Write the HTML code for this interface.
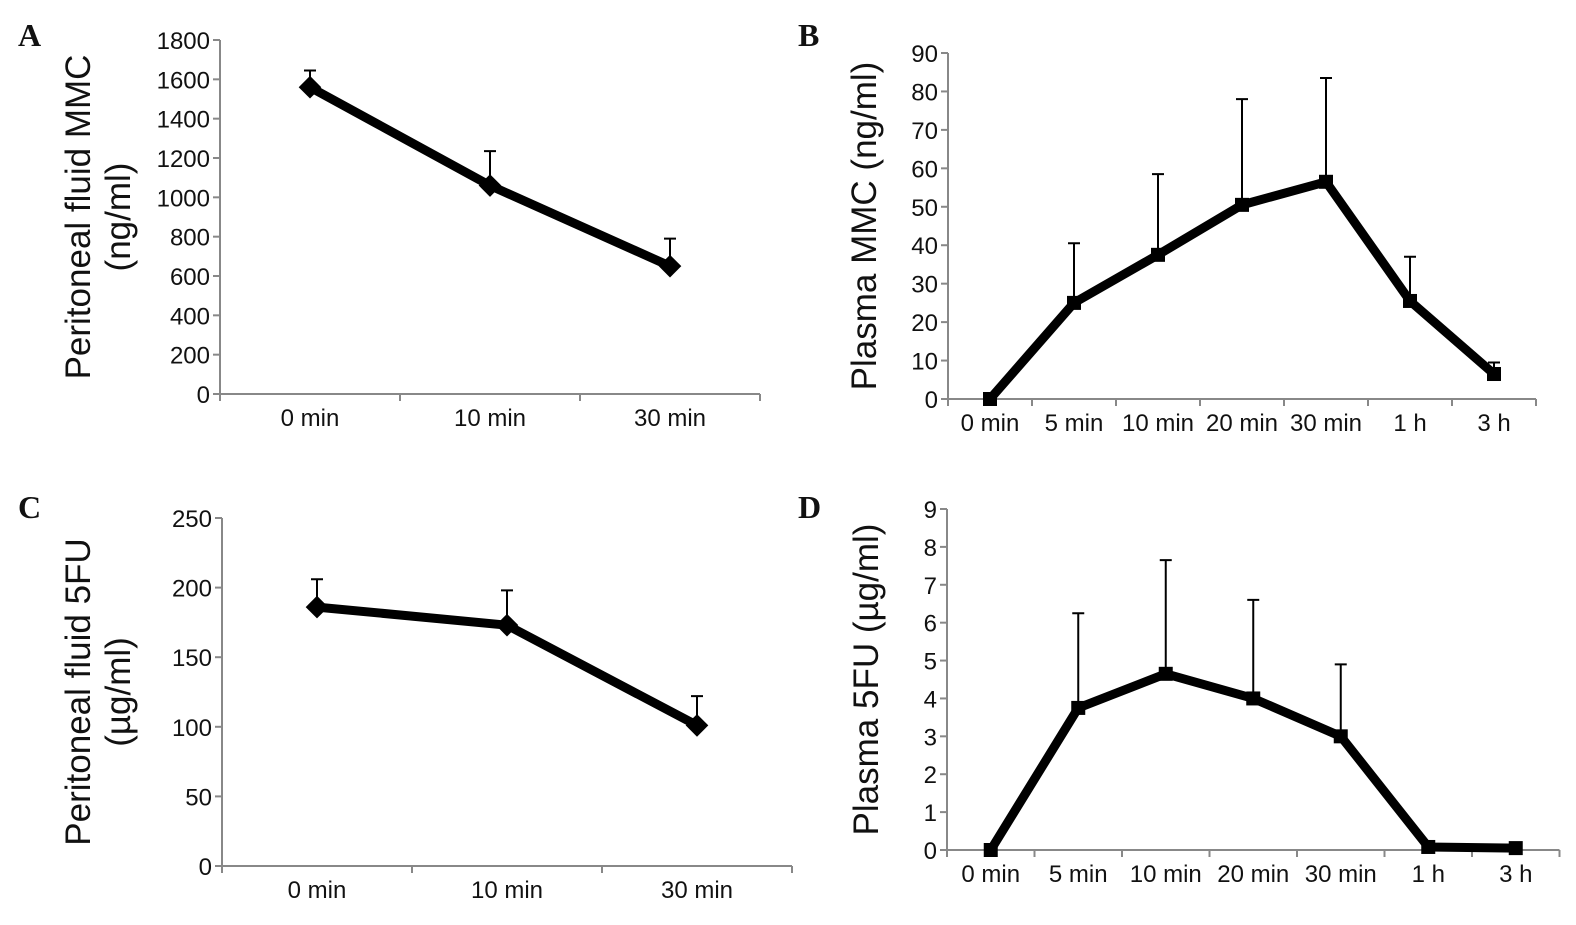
<!DOCTYPE html>
<html><head><meta charset="utf-8"><style>
body{margin:0;background:#fff;}
svg text{font-family:"Liberation Sans",Arial,sans-serif;fill:#111;}
.pl{font-family:"Liberation Serif",serif !important;font-weight:bold;font-size:32px;}
</style></head><body>
<svg id="fig" width="1576" height="920" viewBox="0 0 1576 920" xmlns="http://www.w3.org/2000/svg">
<text class="pl" x="18" y="46">A</text>
<text class="pl" x="798" y="46">B</text>
<text class="pl" x="18" y="518">C</text>
<text class="pl" x="798" y="518">D</text>
</svg>
<script>
const catsA = ["0 min","10 min","30 min"];
const valsA = [1560,1060,650];
const errA = [1645,1235,790];
const ticksA = [0,200,400,600,800,1000,1200,1400,1600,1800];

const catsB = ["0 min","5 min","10 min","20 min","30 min","1 h","3 h"];
const valsB = [0,25,37.5,50.5,56.5,25.5,6.5];
const errB = [0,40.5,58.5,78,83.5,37,9.5];
const ticksB = [0,10,20,30,40,50,60,70,80,90];

const catsC = ["0 min","10 min","30 min"];
const valsC = [186,173,101];
const errC = [206,198,122];
const ticksC = [0,50,100,150,200,250];

const catsD = ["0 min","5 min","10 min","20 min","30 min","1 h","3 h"];
const valsD = [0,3.75,4.65,4.0,3.0,0.08,0.05];
const errD = [0,6.25,7.65,6.6,4.9,0.08,0.05];
const ticksD = [0,1,2,3,4,5,6,7,8,9];

const NS="http://www.w3.org/2000/svg";
const svg=document.getElementById('fig');
function mk(tag,attrs,parent){const e=document.createElementNS(NS,tag);for(const k in attrs)e.setAttribute(k,attrs[k]);(parent||svg).appendChild(e);return e;}

function panel(id,cfg,cats,vals,errs,ticks){
  const g=mk('g',{});
  
  
  const max=ticks[ticks.length-1];
  const y=v=>cfg.y0-(v/max)*(cfg.y0-cfg.y1);
  const cw=cfg.cw;
  const x=i=>cfg.x0+cw*(i+0.5);
  const xEnd=cfg.x0+cw*cats.length;
  const ax=mk('path',{d:`M${cfg.x0},${cfg.y1} V${cfg.y0} H${xEnd}`,stroke:'#888',fill:'none','stroke-width':2},g);
  
  
  ticks.forEach(t=>{
    mk('line',{x1:cfg.x0-7,x2:cfg.x0,y1:y(t),y2:y(t),stroke:'#888','stroke-width':2},g);
    const tx=mk('text',{x:cfg.x0-10,y:y(t)+9,'text-anchor':'end','font-size':24},g);
    tx.textContent=t;
    
    
  });
  for(let i=0;i<=cats.length;i++){
    mk('line',{x1:cfg.x0+cw*i,x2:cfg.x0+cw*i,y1:cfg.y0,y2:cfg.y0+7,stroke:'#888','stroke-width':2},g);
  }
  cats.forEach((c,i)=>{
    const tx=mk('text',{x:x(i),y:cfg.y0+32,'text-anchor':'middle','font-size':24},g);
    tx.textContent=c;
    
    
  });
  const tt=mk('text',{transform:`translate(${cfg.tx},${(cfg.y0+cfg.y1)/2}) rotate(-90)`,'text-anchor':'middle','font-size':35},g);
  
  
  cfg.title.forEach((ln,k)=>{const ts=mk('tspan',{x:0,dy:k?40:0},tt);ts.textContent=ln;});
  vals.forEach((v,i)=>{
    if(errs[i]>v+0.2){
      const e=mk('path',{d:`M${x(i)},${y(v)} V${y(errs[i])} M${x(i)-6},${y(errs[i])} H${x(i)+6}`,stroke:'#000','stroke-width':2,fill:'none'},g);
      
      
    }
  });
  const ln=mk('polyline',{points:vals.map((v,i)=>x(i)+','+y(v)).join(' '),stroke:'#000','stroke-width':9,fill:'none','stroke-linejoin':'round'},g);
  
  
  vals.forEach((v,i)=>{
    let m;
    if(cfg.diamond){
      m=mk('rect',{x:x(i)-8,y:y(v)-8,width:16,height:16,fill:'#000',transform:`rotate(45 ${x(i)} ${y(v)})`},g);
    } else {
      m=mk('rect',{x:x(i)-7,y:y(v)-7,width:14,height:14,fill:'#000'},g);
    }
    
    
  });
}
panel('a',{x0:220,cw:180,y0:394,y1:40,tx:90,diamond:true,title:['Peritoneal fluid MMC','(ng/ml)']},catsA,valsA,errA,ticksA);
panel('b',{x0:948,cw:84,y0:399,y1:53,tx:876,diamond:false,title:['Plasma MMC  (ng/ml)']},catsB,valsB,errB,ticksB);
panel('c',{x0:222,cw:190,y0:866,y1:518,tx:90,diamond:true,title:['Peritoneal fluid 5FU','(µg/ml)']},catsC,valsC,errC,ticksC);
panel('d',{x0:947,cw:87.5,y0:850,y1:509,tx:878,diamond:false,title:['Plasma 5FU  (µg/ml)']},catsD,valsD,errD,ticksD);
</script>
</body></html>
